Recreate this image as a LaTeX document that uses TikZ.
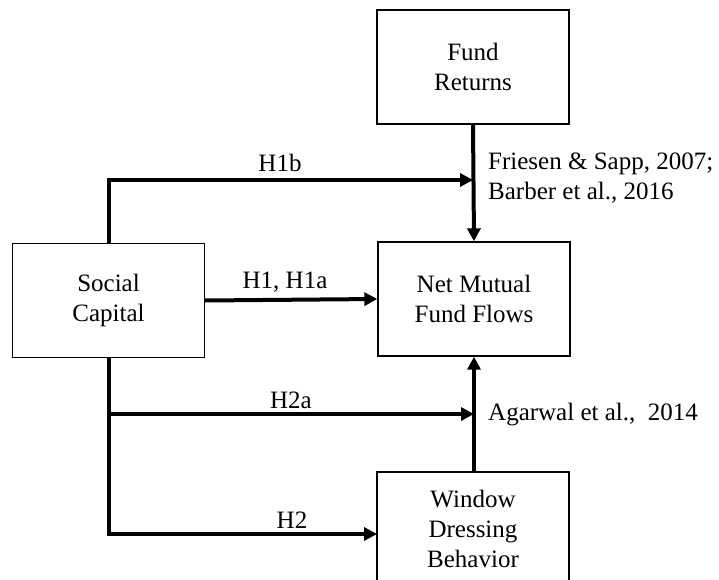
\documentclass[tikz,border=0pt]{standalone}
\usepackage{fontspec}
\setmainfont{Liberation Serif}
\usetikzlibrary{arrows.meta}
\begin{document}
\begin{tikzpicture}[x=1pt,y=-1pt,
  box/.style={draw=black,line width=1.4pt,minimum width=192pt,minimum height=114pt,align=center,inner sep=0pt,font=\fontsize{25}{30}\selectfont},
  lbl/.style={font=\fontsize{25}{30}\selectfont,inner sep=0pt},
  conn/.style={line width=4pt,-{Triangle[length=13pt,width=13pt]}},
  plain/.style={line width=4pt}]
\useasboundingbox (0,0) rectangle (719,580);
\clip (0,0) rectangle (719,580);
\node[box] (FR) at (473,67) {Fund\\Returns};
\node[box] (SC) at (108.5,300.5) {Social\\Capital};
\node[box] (NF) at (474,299) {Net Mutual\\Fund Flows};
\node[box] (WD) at (473,529) {Window\\Dressing\\Behavior};
\coordinate (j1) at (473,180);
\coordinate (b1) at (108.5,414);
\coordinate (j2) at (474,414);
\coordinate (h2) at (377,534);
\draw[conn] (FR.south) -- (NF.north);
\draw[conn] (WD.north -| NF.south) -- (NF.south);
\draw[conn,line join=miter] (SC.north) |- (j1);
\draw[conn] (SC.east) -- (NF.west);
\draw[conn] (b1) -- (j2);
\draw[conn,line join=miter] (SC.south) |- (h2);
\node[lbl] (l1b) at (280,163) {H1b};
\node[lbl] (l1) at (285,282) {H1, H1a};
\node[lbl] (l2a) at (291,400) {H2a};
\node[lbl] (l2) at (292,520) {H2};
\node[lbl,anchor=west,align=left] (fr) at (488,178) {Friesen \& Sapp, 2007;\\Barber et al., 2016};
\node[lbl,anchor=west] (ag) at (488,415) {Agarwal et al.,\ \ 2014};
\end{tikzpicture}
\end{document}
